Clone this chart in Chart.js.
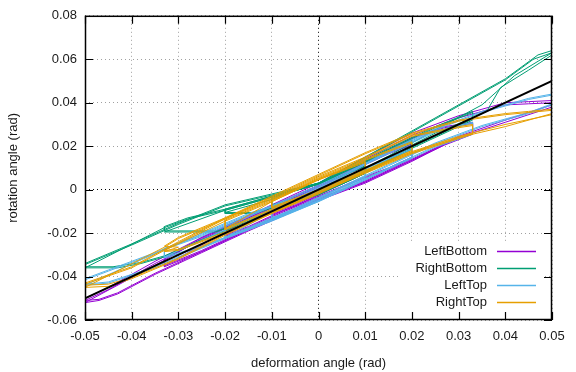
<!DOCTYPE html>
<html><head><meta charset="utf-8">
<script src="https://cdn.jsdelivr.net/npm/chart.js@4/dist/chart.umd.min.js"></script>
<style>html,body{margin:0;padding:0;background:#fff}</style>
</head><body>
<canvas id="c" width="576" height="372"></canvas>
<script>
const xTicks = [-0.05,-0.04,-0.03,-0.02,-0.01,0,0.01,0.02,0.03,0.04,0.05];
const yTicks = [-0.06,-0.04,-0.02,0,0.02,0.04,0.06,0.08];
const seriesNames = ['LeftBottom','RightBottom','LeftTop','RightTop'];
const seriesColors = ['#9400d3','#009e73','#56b4e9','#e69f00'];
const xTitle = 'deformation angle (rad)';
const yTitle = 'rotation angle (rad)';

const leftBottom = [
 [-0.01,-0.011],[-0.005,-0.007],[0,-0.002],[0.005,0.003],[0.01,0.008],
 [0.01,0.011],[0.005,0.006],[0,0.001],[-0.005,-0.004],[-0.01,-0.009],
 [-0.01,-0.0115],[-0.005,-0.0075],[0,-0.0025],[0.005,0.0025],[0.01,0.0075],
 [0.01,0.0105],[0.005,0.0065],[0,0.0015],[-0.005,-0.0035],[-0.01,-0.0095],
 [-0.02,-0.021],[-0.015,-0.017],[-0.01,-0.012],[0,-0.003],[0.01,0.006],[0.015,0.010],[0.02,0.015],
 [0.02,0.021],[0.015,0.017],[0.01,0.012],[0,0.002],[-0.01,-0.008],[-0.015,-0.013],[-0.02,-0.019],
 [-0.02,-0.0215],[-0.015,-0.0175],[-0.01,-0.0125],[0,-0.0035],[0.01,0.0055],[0.015,0.0095],[0.02,0.0145],
 [0.02,0.0205],[0.015,0.0165],[0.01,0.0115],[0,0.0015],[-0.01,-0.0085],[-0.015,-0.0135],[-0.02,-0.0195],
 [-0.033,-0.035],[-0.025,-0.028],[-0.015,-0.018],[0,-0.004],[0.01,0.004],[0.02,0.014],[0.027,0.021],[0.033,0.026],
 [0.033,0.031],[0.027,0.029],[0.02,0.024],[0.01,0.013],[0,0.002],[-0.015,-0.012],[-0.025,-0.022],[-0.033,-0.032],
 [-0.033,-0.0355],[-0.025,-0.0285],[-0.015,-0.0185],[0,-0.0045],[0.01,0.0035],[0.02,0.0135],[0.027,0.0205],[0.033,0.0255],
 [0.033,0.0305],[0.027,0.0285],[0.02,0.0235],[0.01,0.0125],[0,0.0015],[-0.015,-0.0125],[-0.025,-0.0225],[-0.033,-0.0325],
 [-0.05,-0.052],[-0.047,-0.051],[-0.043,-0.048],[-0.035,-0.039],[-0.025,-0.029],[-0.015,-0.019],[0,-0.005],[0.01,0.003],[0.02,0.013],[0.03,0.024],[0.04,0.031],[0.05,0.038],
 [0.05,0.041],[0.045,0.0405],[0.04,0.040],[0.035,0.037],[0.03,0.034],[0.02,0.026],[0.01,0.015],[0,0.003],[-0.015,-0.012],[-0.025,-0.022],[-0.035,-0.033],[-0.045,-0.045],[-0.05,-0.050],
 [-0.05,-0.051],[-0.047,-0.0505],[-0.043,-0.0475],[-0.035,-0.0385],[-0.025,-0.0285],[-0.015,-0.0185],[0,-0.0045],[0.01,0.0035],[0.02,0.0135],[0.03,0.0245],[0.04,0.032],[0.05,0.039],
 [0.05,0.040],[0.045,0.0395],[0.04,0.039],[0.035,0.036],[0.03,0.033],[0.02,0.025],[0.01,0.014],[0,0.002],[-0.015,-0.013],[-0.025,-0.023],[-0.035,-0.034],[-0.045,-0.046],[-0.05,-0.051]
];

const rightBottom = [
 [-0.01,-0.007],[-0.005,-0.004],[0,-0.001],[0.005,0.003],[0.01,0.008],
 [0.01,0.011],[0.005,0.006],[0,0.003],[-0.005,0.0],[-0.01,-0.004],
 [-0.01,-0.0075],[-0.005,-0.0045],[0,-0.0015],[0.005,0.0025],[0.01,0.0075],
 [0.01,0.0105],[0.005,0.0065],[0,0.0025],[-0.005,-0.0005],[-0.01,-0.0045],
 [-0.02,-0.0105],[-0.014,-0.0105],[-0.01,-0.008],[0,-0.002],[0.01,0.008],[0.02,0.019],
 [0.02,0.023],[0.01,0.013],[0,0.003],[-0.01,-0.003],[-0.02,-0.009],
 [-0.02,-0.011],[-0.0135,-0.011],[-0.01,-0.0085],[0,-0.0025],[0.01,0.0075],[0.02,0.0185],
 [0.02,0.0225],[0.01,0.0125],[0,0.0025],[-0.01,-0.0035],[-0.02,-0.0095],
 [-0.033,-0.0195],[-0.022,-0.0195],[-0.015,-0.014],[-0.005,-0.006],[0,-0.002],[0.01,0.008],[0.02,0.019],[0.033,0.032],
 [0.033,0.036],[0.025,0.029],[0.015,0.019],[0.005,0.008],[0,0.003],[-0.01,-0.003],[-0.02,-0.009],[-0.028,-0.013],[-0.033,-0.017],
 [-0.033,-0.019],[-0.0215,-0.019],[-0.015,-0.0135],[-0.005,-0.0055],[0,-0.0015],[0.01,0.0085],[0.02,0.0195],[0.033,0.0325],
 [0.033,0.0355],[0.025,0.0285],[0.015,0.0185],[0.005,0.0075],[0,0.0025],[-0.01,-0.0035],[-0.02,-0.0095],[-0.028,-0.0135],[-0.033,-0.0175],
 [-0.05,-0.036],[-0.043,-0.036],[-0.038,-0.034],[-0.033,-0.031],[-0.025,-0.0235],[-0.015,-0.015],[-0.005,-0.005],[0.005,0.004],[0.015,0.015],[0.025,0.026],[0.033,0.033],[0.036,0.036],[0.039,0.047],[0.045,0.055],[0.05,0.062],
 [0.05,0.064],[0.047,0.062],[0.04,0.051],[0.03,0.039],[0.02,0.027],[0.01,0.015],[0,0.003],[-0.01,-0.002],[-0.02,-0.007],[-0.03,-0.0155],[-0.04,-0.025],[-0.05,-0.034],
 [-0.05,-0.0355],[-0.044,-0.0355],[-0.038,-0.0335],[-0.033,-0.0305],[-0.025,-0.023],[-0.015,-0.0145],[-0.005,-0.0045],[0.005,0.0045],[0.015,0.0155],[0.025,0.0275],[0.035,0.039],[0.042,0.0525],[0.05,0.063],
 [0.05,0.063],[0.046,0.060],[0.04,0.0505],[0.03,0.0385],[0.02,0.0265],[0.01,0.0145],[0,0.0025],[-0.01,-0.0025],[-0.02,-0.0075],[-0.03,-0.016],[-0.04,-0.0255],[-0.05,-0.0345]
];

const leftTop = [
 [-0.01,-0.013],[-0.005,-0.009],[0,-0.004],[0.005,0.001],[0.01,0.006],
 [0.01,0.009],[0.005,0.004],[0,-0.001],[-0.005,-0.006],[-0.01,-0.010],
 [-0.01,-0.0135],[-0.005,-0.0095],[0,-0.0045],[0.005,0.0005],[0.01,0.0055],
 [0.01,0.0085],[0.005,0.0035],[0,-0.0015],[-0.005,-0.0065],[-0.01,-0.0105],
 [-0.02,-0.022],[-0.01,-0.014],[0,-0.005],[0.01,0.005],[0.02,0.015],
 [0.02,0.019],[0.01,0.010],[0,0.0],[-0.01,-0.009],[-0.02,-0.018],
 [-0.02,-0.0225],[-0.01,-0.0145],[0,-0.0055],[0.01,0.0045],[0.02,0.0145],
 [0.02,0.0185],[0.01,0.0095],[0,-0.0005],[-0.01,-0.0095],[-0.02,-0.0185],
 [-0.033,-0.031],[-0.025,-0.026],[-0.015,-0.018],[0,-0.005],[0.015,0.010],[0.025,0.020],[0.033,0.026],
 [0.033,0.031],[0.025,0.027],[0.015,0.017],[0,0.002],[-0.015,-0.012],[-0.025,-0.021],[-0.033,-0.027],
 [-0.033,-0.0315],[-0.025,-0.0265],[-0.015,-0.0185],[0,-0.0055],[0.015,0.0095],[0.025,0.0195],[0.033,0.0255],
 [0.033,0.0305],[0.025,0.0265],[0.015,0.0165],[0,0.0015],[-0.015,-0.0125],[-0.025,-0.0215],[-0.033,-0.0275],
 [-0.05,-0.044],[-0.045,-0.043],[-0.035,-0.036],[-0.025,-0.027],[-0.015,-0.018],[-0.005,-0.009],[0.005,0.001],[0.015,0.011],[0.025,0.021],[0.035,0.029],[0.045,0.035],[0.05,0.039],
 [0.05,0.044],[0.045,0.042],[0.035,0.036],[0.025,0.028],[0.015,0.018],[0.005,0.006],[-0.005,-0.004],[-0.015,-0.011],[-0.025,-0.020],[-0.035,-0.029],[-0.045,-0.037],[-0.05,-0.041],
 [-0.05,-0.0435],[-0.045,-0.0425],[-0.035,-0.0355],[-0.025,-0.0265],[-0.015,-0.0175],[-0.005,-0.0085],[0.005,0.0015],[0.015,0.0115],[0.025,0.0215],[0.035,0.0295],[0.045,0.0355],[0.05,0.0395],
 [0.05,0.0435],[0.045,0.0415],[0.035,0.0355],[0.025,0.0275],[0.015,0.0175],[0.005,0.0055],[-0.005,-0.0045],[-0.015,-0.0115],[-0.025,-0.0205],[-0.035,-0.0295],[-0.045,-0.0375],[-0.05,-0.0415]
];

const rightTop = [
 [-0.01,-0.008],[-0.005,-0.004],[0,0.0],[0.005,0.005],[0.01,0.010],
 [0.01,0.013],[0.005,0.009],[0,0.005],[-0.005,0.0],[-0.01,-0.005],
 [-0.01,-0.0085],[-0.005,-0.0045],[0,-0.0005],[0.005,0.0045],[0.01,0.0095],
 [0.01,0.0125],[0.005,0.0085],[0,0.0045],[-0.005,-0.0005],[-0.01,-0.0055],
 [-0.02,-0.018],[-0.01,-0.009],[0,0.0],[0.01,0.009],[0.02,0.018],
 [0.02,0.022],[0.01,0.014],[0,0.005],[-0.01,-0.005],[-0.02,-0.014],
 [-0.02,-0.0185],[-0.01,-0.0095],[0,-0.0005],[0.01,0.0085],[0.02,0.0175],
 [0.02,0.0215],[0.01,0.0135],[0,0.0045],[-0.01,-0.0055],[-0.02,-0.0145],
 [-0.033,-0.028],[-0.03,-0.0275],[-0.02,-0.0195],[-0.01,-0.0105],[0,-0.001],[0.01,0.008],[0.02,0.017],[0.03,0.024],[0.033,0.026],
 [0.033,0.030],[0.03,0.029],[0.02,0.025],[0.01,0.015],[0,0.006],[-0.01,-0.004],[-0.02,-0.013],[-0.03,-0.022],[-0.033,-0.026],
 [-0.03,-0.0265],[-0.033,-0.0285],[-0.03,-0.028],[-0.02,-0.020],[-0.01,-0.011],[0,-0.0015],[0.01,0.0075],[0.02,0.0165],[0.03,0.0235],[0.033,0.0255],
 [0.033,0.0295],[0.03,0.0285],[0.02,0.0245],[0.01,0.0145],[0,0.0055],[-0.01,-0.0045],[-0.02,-0.0135],[-0.03,-0.0225],[-0.033,-0.0265],
 [-0.05,-0.045],[-0.045,-0.0445],[-0.04,-0.041],[-0.03,-0.032],[-0.02,-0.021],[-0.01,-0.011],[0,-0.002],[0.01,0.008],[0.02,0.017],[0.03,0.024],[0.04,0.029],[0.05,0.035],
 [0.05,0.037],[0.045,0.036],[0.04,0.035],[0.03,0.032],[0.02,0.026],[0.01,0.017],[0,0.007],[-0.01,-0.003],[-0.02,-0.013],[-0.03,-0.024],[-0.04,-0.0355],[-0.05,-0.043],
 [-0.05,-0.044],[-0.045,-0.0435],[-0.04,-0.0405],[-0.03,-0.0315],[-0.02,-0.0205],[-0.01,-0.0105],[0,-0.0015],[0.01,0.0085],[0.02,0.0175],[0.03,0.0245],[0.04,0.030],[0.05,0.0345],
 [0.05,0.0365],[0.045,0.0355],[0.04,0.0345],[0.03,0.0315],[0.02,0.0255],[0.01,0.0165],[0,0.0065],[-0.01,-0.0035],[-0.02,-0.0135],[-0.03,-0.0245],[-0.04,-0.036],[-0.05,-0.0435]
];

const referenceLine = [[-0.05,-0.05],[0.05,0.05]];

const seriesData = [leftBottom, rightBottom, leftTop, rightTop];
const FONT = "'Liberation Sans', Arial, sans-serif";
const toPts = arr => arr.map(p => ({x:p[0], y:p[1]}));

const datasets = seriesData.map((d,i) => ({
  label: seriesNames[i], data: toPts(d), showLine: true, borderColor: seriesColors[i],
  backgroundColor: seriesColors[i], borderWidth: 1, pointRadius: 0, tension: 0, order: 4 - i
}));
datasets.push({label: '', data: toPts(referenceLine), showLine: true, borderColor: '#000',
  borderWidth: 2, pointRadius: 0, order: -1});

const fmt = v => Math.abs(v) < 1e-9 ? '0' : String(+v.toFixed(2));

const frame = {
  id: 'frame',
  afterDatasetsDraw(chart) {
    const {ctx, chartArea: a, scales: {x, y}} = chart;
    ctx.save();
    ctx.fillStyle = '#fff';
    ctx.fillRect(400, 242, 144, 77);
    ctx.font = '13px ' + FONT;
    ctx.textAlign = 'right';
    ctx.textBaseline = 'middle';
    seriesNames.forEach((n, i) => {
      const yy = 251 + i * 17;
      ctx.fillStyle = '#1a1a1a';
      ctx.fillText(n, 487, yy);
      ctx.strokeStyle = seriesColors[i];
      ctx.lineWidth = 1.5;
      ctx.beginPath(); ctx.moveTo(497, Math.round(yy) + 0.5); ctx.lineTo(536, Math.round(yy) + 0.5); ctx.stroke();
    });
    ctx.strokeStyle = '#000';
    ctx.lineWidth = 1.5;
    ctx.strokeRect(a.left + 0.5, a.top + 0.5, a.right - a.left - 1, a.bottom - a.top - 1);
    const tl = 8;
    ctx.lineWidth = 1.2;
    ctx.beginPath();
    xTicks.forEach(v => {
      const px = Math.round(x.getPixelForValue(v)) + 0.5;
      ctx.moveTo(px, a.bottom); ctx.lineTo(px, a.bottom - tl);
      ctx.moveTo(px, a.top); ctx.lineTo(px, a.top + tl);
    });
    yTicks.forEach(v => {
      const py = Math.round(y.getPixelForValue(v)) + 0.5;
      ctx.moveTo(a.left, py); ctx.lineTo(a.left + tl, py);
      ctx.moveTo(a.right, py); ctx.lineTo(a.right - tl, py);
    });
    ctx.stroke();
    ctx.restore();
  }
};

const gridColor = c => (Math.abs(c.tick && c.tick.value) < 1e-9) ? '#000' : '#a0a0a0';

new Chart(document.getElementById('c'), {
  type: 'scatter',
  data: {datasets},
  options: {
    responsive: false, animation: false, devicePixelRatio: 1,
    layout: {padding: {left: 0, right: 24, top: 13, bottom: 0}},
    plugins: {legend: {display: false}, tooltip: {enabled: false}},
    scales: {
      x: {
        type: 'linear', min: -0.05, max: 0.05,
        afterBuildTicks: s => { s.ticks = xTicks.map(v => ({value: v})); },
        afterFit: s => { s.height = 52; },
        ticks: {callback: v => fmt(v), color: '#1a1a1a', font: {family: FONT, size: 13}, padding: 9, maxRotation: 0, autoSkip: false},
        grid: {color: gridColor, lineWidth: 1, drawTicks: false},
        border: {display: false, dash: [1, 3]},
        title: {display: true, text: xTitle, color: '#1a1a1a', font: {family: FONT, size: 13}, padding: {top: 0, bottom: 1}}
      },
      y: {
        type: 'linear', min: -0.06, max: 0.08,
        afterBuildTicks: s => { s.ticks = yTicks.map(v => ({value: v})); },
        afterFit: s => { s.width = 85; },
        ticks: {callback: v => fmt(v), color: '#1a1a1a', font: {family: FONT, size: 13}, padding: 8, autoSkip: false},
        grid: {color: gridColor, lineWidth: 1, drawTicks: false},
        border: {display: false, dash: [1, 3]},
        title: {display: true, text: yTitle, color: '#1a1a1a', font: {family: FONT, size: 13}, padding: {top: 6, bottom: 0}}
      }
    }
  },
  plugins: [frame]
});
</script>
</body></html>
